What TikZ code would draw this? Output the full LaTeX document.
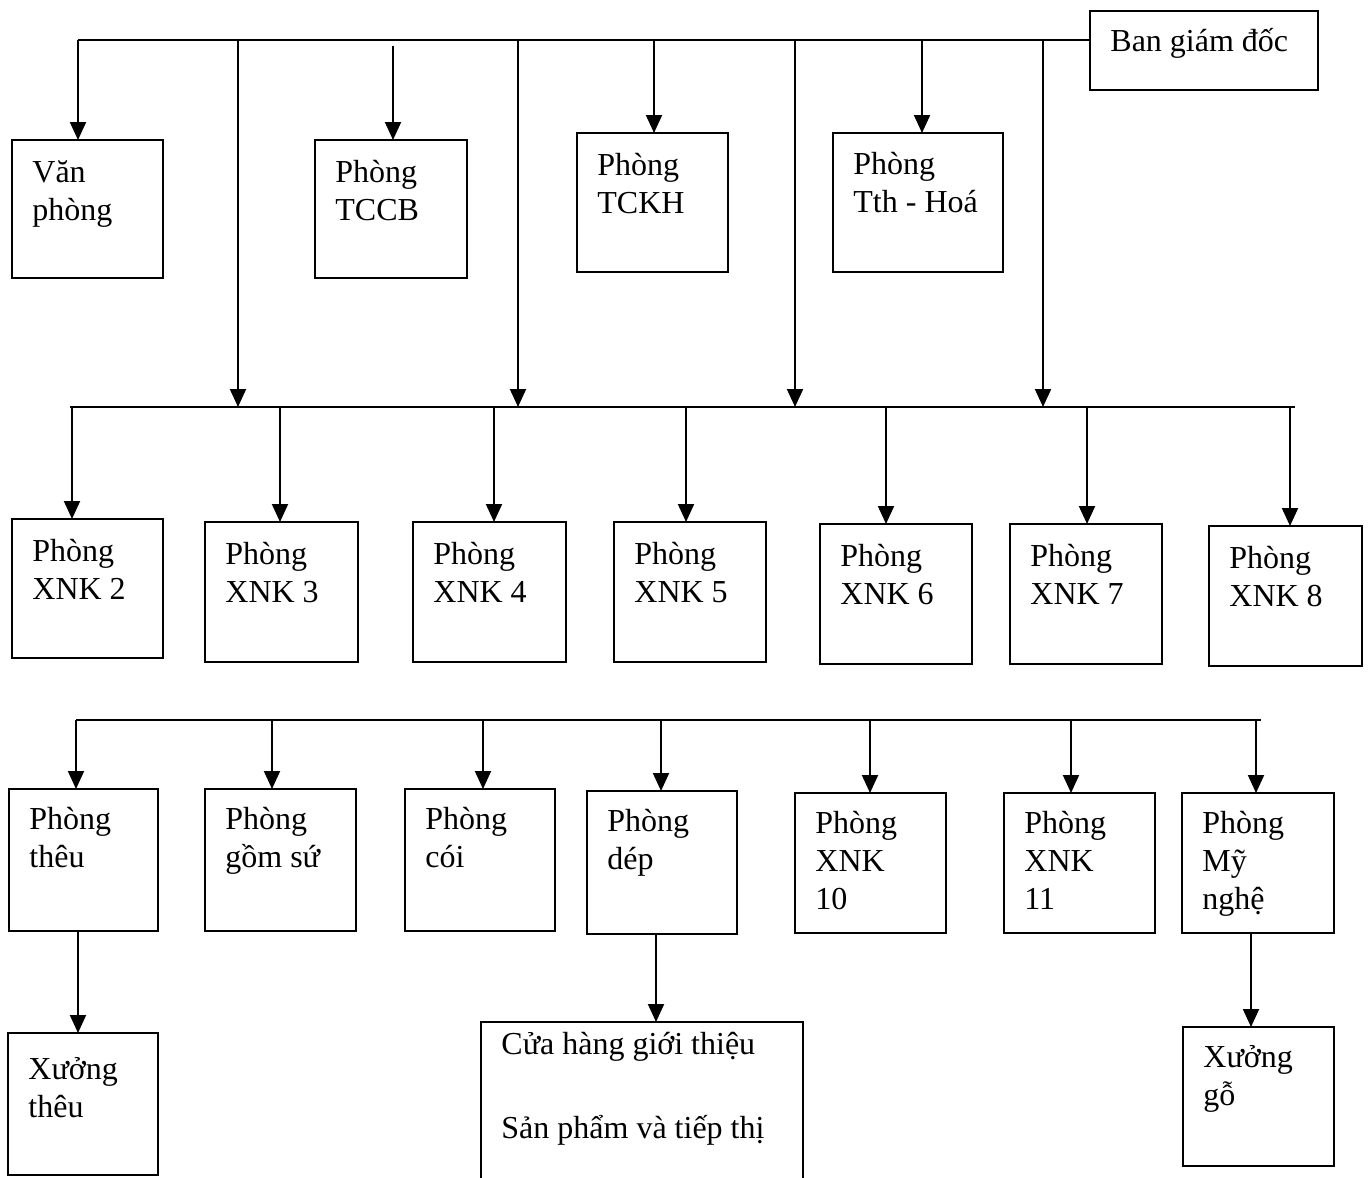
\documentclass[tikz,border=0pt]{standalone}
\usepackage{fontspec}
\setmainfont{Liberation Serif}
\usetikzlibrary{arrows.meta}
% #1 name, #2 x0, #3 y0, #4 x1, #5 y1, #6 text, #7 baseline offset
\newcommand\orgbox[7]{%
  \node[boxst, minimum width={(#4-#2)*0.5pt}, minimum height={(#5-#3)*0.5pt}] (#1) at (#2,#3) {};
  \node[lblst] (#1t) at (#2+20,#3+#7) {\begin{tabular}[t]{@{}l@{}}#6\end{tabular}};
}
\begin{document}
\begin{tikzpicture}[x=0.5pt,y=-0.5pt,
  boxst/.style={draw,line width=1pt,inner sep=0pt,outer sep=0pt,anchor=north west},
  lblst/.style={inner sep=0pt,anchor=base west,font=\fontsize{16pt}{19pt}\selectfont},
  conn/.style={line width=1pt},
  arr/.style={line width=1pt,-{Triangle[length=9pt,width=8pt]}}]
\useasboundingbox (0,0) rectangle (1368,1177);
\clip (0,0) rectangle (1368,1177);
% row 1
\orgbox{ban}{1090}{11}{1318}{90}{Ban giám đốc}{41}
\orgbox{vp}{12}{140}{163}{278}{Văn\\phòng}{42}
\orgbox{tccb}{315}{140}{467}{278}{Phòng\\TCCB}{42}
\orgbox{tckh}{577}{133}{728}{272}{Phòng\\TCKH}{42}
\orgbox{tth}{833}{133}{1003}{272}{Phòng\\Tth - Hoá}{41}
% row 2
\orgbox{x2}{12}{519}{163}{658}{Phòng\\XNK 2}{42}
\orgbox{x3}{205}{522}{358}{662}{Phòng\\XNK 3}{42}
\orgbox{x4}{413}{522}{566}{662}{Phòng\\XNK 4}{42}
\orgbox{x5}{614}{522}{766}{662}{Phòng\\XNK 5}{42}
\orgbox{x6}{820}{524}{972}{664}{Phòng\\XNK 6}{42}
\orgbox{x7}{1010}{524}{1162}{664}{Phòng\\XNK 7}{42}
\orgbox{x8}{1209}{526}{1362}{666}{Phòng\\XNK 8}{42}
% row 3
\orgbox{theu}{9}{789}{158}{931}{Phòng\\thêu}{40}
\orgbox{gom}{205}{789}{356}{931}{Phòng\\gồm sứ}{40}
\orgbox{coi}{405}{789}{555}{931}{Phòng\\cói}{40}
\orgbox{dep}{587}{791}{737}{934}{Phòng\\dép}{40}
\orgbox{x10}{795}{793}{946}{933}{Phòng\\XNK\\10}{40}
\orgbox{x11}{1004}{793}{1155}{933}{Phòng\\XNK\\11}{40}
\orgbox{my}{1182}{793}{1334}{933}{Phòng\\Mỹ\\nghệ}{40}
% row 4
\orgbox{xtheu}{8}{1033}{158}{1175}{Xưởng\\thêu}{46}
\orgbox{ch}{481}{1022}{803}{1210}{Cửa hàng giới thiệu\\[23pt]Sản phẩm và tiếp thị}{32}
\orgbox{xgo}{1183}{1027}{1334}{1166}{Xưởng\\gỗ}{40}
% buses
\coordinate (b1a) at (78,40);
\draw[conn] (b1a) -- (ban.west |- b1a);
\coordinate (b2a) at (70,407);
\coordinate (b2b) at (1295,407);
\draw[conn] (b2a) -- (b2b);
\coordinate (b3a) at (76,720);
\coordinate (b3b) at (1261,720);
\draw[conn] (b3a) -- (b3b);
% drops from bus 1
\coordinate (j12) at (238,40);
\coordinate (j13) at (393,46);
\coordinate (j14) at (518,40);
\coordinate (j15) at (654,40);
\coordinate (j16) at (795,40);
\coordinate (j17) at (922,40);
\coordinate (j18) at (1043,40);
\draw[arr] (b1a) -- (b1a |- vp.north);
\draw[arr] (j12) -- (j12 |- b2a);
\draw[arr] (j13) -- (j13 |- tccb.north);
\draw[arr] (j14) -- (j14 |- b2a);
\draw[arr] (j15) -- (j15 |- tckh.north);
\draw[arr] (j16) -- (j16 |- b2a);
\draw[arr] (j17) -- (j17 |- tth.north);
\draw[arr] (j18) -- (j18 |- b2a);
% drops from bus 2
\foreach \xx/\bx in {72/x2,280/x3,494/x4,686/x5,886/x6,1087/x7,1290/x8}{
  \coordinate (k) at (\xx,407);
  \draw[arr] (k) -- (k |- \bx.north);
}
% drops from bus 3
\foreach \xx/\bx in {76/theu,272/gom,483/coi,661/dep,870/x10,1071/x11,1256/my}{
  \coordinate (m) at (\xx,720);
  \draw[arr] (m) -- (m |- \bx.north);
}
% row 4 links
\coordinate (t1) at (78,0);
\coordinate (t2) at (656,0);
\coordinate (t3) at (1251,0);
\draw[arr] (theu.south -| t1) -- (xtheu.north -| t1);
\draw[arr] (dep.south -| t2) -- (ch.north -| t2);
\draw[arr] (my.south -| t3) -- (xgo.north -| t3);
\end{tikzpicture}
\end{document}
